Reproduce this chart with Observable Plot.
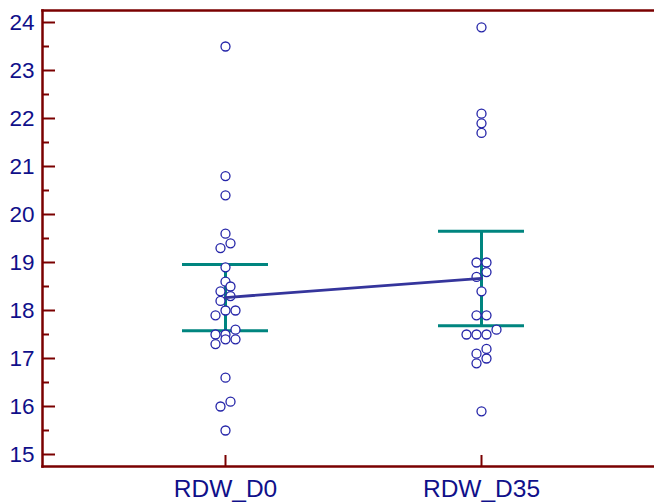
<!DOCTYPE html>
<html>
<head>
<meta charset="utf-8">
<script src="https://cdn.jsdelivr.net/npm/d3@7"></script>
<script src="https://cdn.jsdelivr.net/npm/@observablehq/plot@0.6"></script>
<style>
  html, body { margin: 0; padding: 0; background: #fff; overflow: hidden; }
</style>
</head>
<body>
<div id="chart"></div>
<script>
const categories = ["RDW_D0", "RDW_D35"];

const d0Values = [23.5, 20.8, 20.4, 19.6, 19.4, 19.3, 18.9, 18.6, 18.5, 18.4, 18.3, 18.2, 18.0, 18.0, 17.9, 17.6, 17.5, 17.5, 17.4, 17.4, 17.3, 16.6, 16.1, 16.0, 15.5];
const d0Slots  = [0,    0,    0,    0,    1,    -1,   0,    0,    1,    -1,   1,    -1,   0,    2,    -2,   2,    -2,   0,    0,    2,    -2,   0,    1,    -1,   0];
const d35Values = [23.9, 22.1, 21.9, 21.7, 19.0, 19.0, 18.8, 18.7, 18.4, 17.9, 17.9, 17.6, 17.5, 17.5, 17.5, 17.2, 17.1, 17.0, 16.9, 15.9];
const d35Slots  = [0,    0,    0,    0,    -1,   1,    1,    -1,   0,    -1,   1,    3,    -3,   -1,   1,    1,    -1,   1,    -1,   0];

// Group summaries: mean and error bar limits
const means   = [18.27, 18.67];
const ciLower = [17.58, 17.68];
const ciUpper = [18.96, 19.65];

const yMajorTicks = [15, 16, 17, 18, 19, 20, 21, 22, 23, 24];
const yMinorTicks = [15.5, 16.5, 17.5, 18.5, 19.5, 20.5, 21.5, 22.5, 23.5];
const yDomain = [14.75, 24.25];

const points = [
  ...d0Values.map((v, i) => ({cat: categories[0], value: v, slot: d0Slots[i]})),
  ...d35Values.map((v, i) => ({cat: categories[1], value: v, slot: d35Slots[i]}))
];
const summary = categories.map((c, i) => ({cat: c, mean: means[i], lo: ciLower[i], hi: ciUpper[i]}));

const slotPx = 5;
const slots = Array.from(new Set(points.map(d => d.slot))).sort((a, b) => a - b);

const axisColor = "#7a0000";
const textColor = "#10108a";
const barColor = "#00857f";

const dotMarks = slots.map(s => Plot.dot(points.filter(d => d.slot === s), {
  x: "cat", y: "value", dx: s * slotPx, r: 4.5,
  fill: "white", stroke: "#2424a8", strokeWidth: 1.3
}));

const plot = Plot.plot({
  width: 654,
  height: 503,
  marginLeft: 42,
  marginTop: 10,
  marginBottom: 37,
  marginRight: -10,
  style: {fontFamily: "'Liberation Sans', Arial, sans-serif", background: "white", overflow: "hidden"},
  x: {type: "point", domain: categories, padding: 0.713, label: null},
  y: {domain: yDomain, label: null},
  marks: [
    // error bars
    Plot.ruleX(summary, {x: "cat", y1: "lo", y2: "hi", stroke: barColor, strokeWidth: 3}),
    Plot.ruleY(summary, {x1: "cat", x2: "cat", y: "lo", insetLeft: -43, insetRight: -43, stroke: barColor, strokeWidth: 3}),
    Plot.ruleY(summary, {x1: "cat", x2: "cat", y: "hi", insetLeft: -43, insetRight: -43, stroke: barColor, strokeWidth: 3}),
    // observations
    ...dotMarks,
    // mean line
    Plot.line(summary, {x: "cat", y: "mean", stroke: "#35359c", strokeWidth: 2.8}),
    // axis frame lines
    Plot.frame({anchor: "left", stroke: axisColor, strokeWidth: 2.5}),
    Plot.frame({anchor: "top", stroke: axisColor, strokeWidth: 2.5}),
    Plot.frame({anchor: "bottom", stroke: axisColor, strokeWidth: 2.5}),
    // y ticks (inward)
    Plot.axisY({ticks: yMajorTicks, tickSize: -13, tickFormat: () => "", stroke: axisColor, strokeWidth: 2, label: null}),
    Plot.axisY({ticks: yMinorTicks, tickSize: -7, tickFormat: () => "", stroke: axisColor, strokeWidth: 2, label: null}),
    Plot.axisY({ticks: yMajorTicks, tickSize: 0, tickPadding: 8, fontSize: 22.5, fill: textColor, label: null}),
    // x ticks (inward) + labels
    Plot.axisX({tickSize: -11, tickFormat: () => "", stroke: axisColor, strokeWidth: 2, label: null}),
    Plot.axisX({tickSize: 0, tickPadding: 13, fontSize: 24.5, fill: textColor, label: null})
  ]
});
document.getElementById("chart").appendChild(plot);
</script>
</body>
</html>
